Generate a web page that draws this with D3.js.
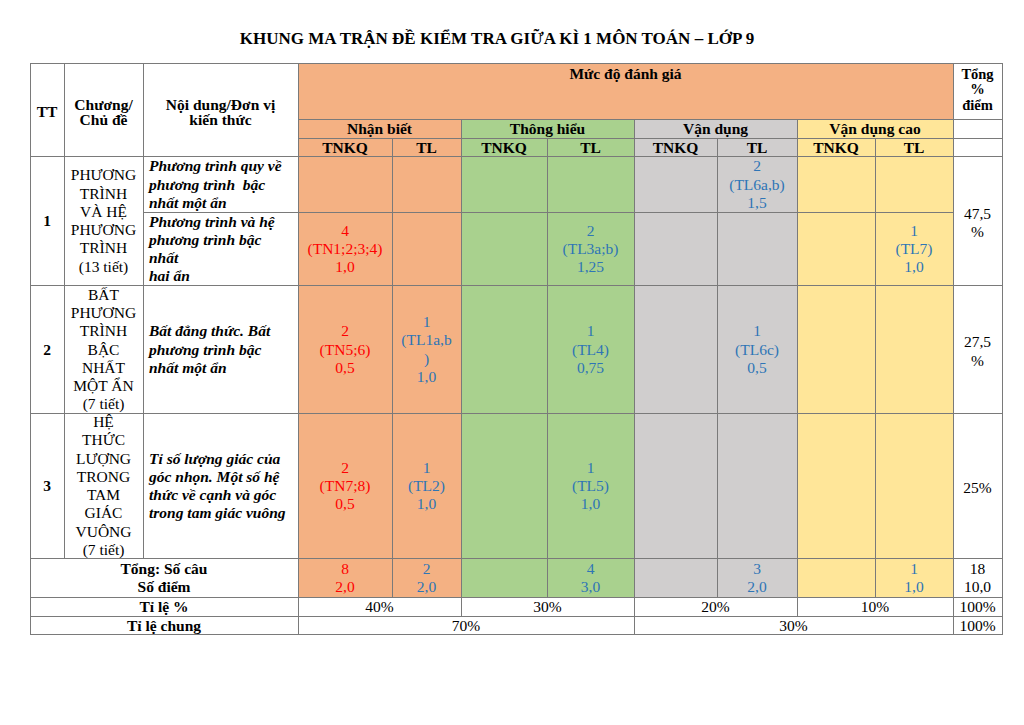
<!DOCTYPE html>
<html><head><meta charset="utf-8">
<script src="https://cdn.jsdelivr.net/npm/d3@7/dist/d3.min.js"></script>
<style>body{margin:0;background:#fff}svg{display:block}</style>
</head><body>
<script>
// ---- data ----
const title = "KHUNG MA TRẬN ĐỀ KIỂM TRA GIỮA KÌ 1 MÔN TOÁN – LỚP 9";
const headTT = ["TT"];
const headTopic = ["Chương/", "Chủ đề"];
const headContent = ["Nội dung/Đơn vị", "kiến thức"];
const headLevel = "Mức độ đánh giá";
const headTotal = ["Tổng", "%", "điểm"];
const levels = ["Nhận biết", "Thông hiểu", "Vận dụng", "Vận dụng cao"];
const subCols = ["TNKQ", "TL"];
const topicNo = ["1", "2", "3"];
const topicNames = [
  ["PHƯƠNG", "TRÌNH", "VÀ HỆ", "PHƯƠNG", "TRÌNH", "(13 tiết)"],
  ["BẤT", "PHƯƠNG", "TRÌNH", "BẬC", "NHẤT", "MỘT ẨN", "(7 tiết)"],
  ["HỆ", "THỨC", "LƯỢNG", "TRONG", "TAM", "GIÁC", "VUÔNG", "(7 tiết)"]
];
const contentTopic = [0, 0, 1, 2];
const contents = [
  ["Phương trình quy về", "phương trình  bậc", "nhất một ẩn"],
  ["Phương trình và hệ", "phương trình bậc", "nhất", "hai ẩn"],
  ["Bất đẳng thức. Bất", "phương trình bậc", "nhất một ẩn"],
  ["Tỉ số lượng giác của", "góc nhọn. Một số hệ", "thức về cạnh và góc", "trong tam giác vuông"]
];
const cellValues = [
  [null, null, null, null, null, ["2", "(TL6a,b)", "1,5"], null, null],
  [["4", "(TN1;2;3;4)", "1,0"], null, null, ["2", "(TL3a;b)", "1,25"], null, null, null, ["1", "(TL7)", "1,0"]],
  [["2", "(TN5;6)", "0,5"], ["1", "(TL1a,b", ")", "1,0"], null, ["1", "(TL4)", "0,75"], null, ["1", "(TL6c)", "0,5"], null, null],
  [["2", "(TN7;8)", "0,5"], ["1", "(TL2)", "1,0"], null, ["1", "(TL5)", "1,0"], null, null, null, null]
];
const topicTotals = [["47,5", "%"], ["27,5", "%"], ["25%"]];
const totalLabel = ["Tổng: Số câu", "Số điểm"];
const totalCount = ["8", "2", "", "4", "", "3", "", "1"];
const totalPoints = ["2,0", "2,0", "", "3,0", "", "2,0", "", "1,0"];
const grandTotal = ["18", "10,0"];
const pctLabel = "Tỉ lệ %";
const levelPct = ["40%", "30%", "20%", "10%"];
const commonLabel = "Tỉ lệ chung";
const commonPct = ["70%", "30%"];
const allPct = "100%";

// ---- layout ----
const W = 1024, H = 725;
const colEdges = [30, 64, 143, 298, 392, 461, 547, 634, 717, 797, 875, 953, 1002];
const rowEdges = [63, 119, 138, 156, 212, 285, 413, 558, 597, 616, 634];
const x = d3.scaleLinear().domain(d3.range(colEdges.length)).range(colEdges);
const y = d3.scaleLinear().domain(d3.range(rowEdges.length)).range(rowEdges);
const levelColor = d3.scaleOrdinal().domain(levels).range(["#F4B183", "#A9D18E", "#D0CECE", "#FFE699"]);
const subColor = d3.scaleOrdinal().domain(subCols).range(["#FF0000", "#2E75B6"]);
const FONT = "'Liberation Serif','Times New Roman',serif";
const FS = 15.5, LH = 18.3;

const svg = d3.select("body").append("svg").attr("width", W).attr("height", H)
  .style("font-family", FONT);

svg.append("text").attr("x", 497).attr("y", 38).attr("text-anchor", "middle")
  .attr("dominant-baseline", "central").attr("font-weight", "bold").attr("font-size", 17)
  .attr("fill", "#000").text(title);

const gCells = svg.append("g");
const gText = svg.append("g");

function cell(c0, c1, r0, r1, fill) {
  gCells.append("rect")
    .attr("x", x(c0) + 0.5).attr("y", y(r0) + 0.5)
    .attr("width", x(c1) - x(c0)).attr("height", y(r1) - y(r0))
    .attr("fill", fill || "#fff").attr("stroke", "#7a7a7a").attr("stroke-width", 1)
    .attr("shape-rendering", "crispEdges");
}
function lines(arr, cx, cy, opt) {
  opt = opt || {};
  const lh = opt.lh || LH;
  const n = arr.length;
  const t = gText.append("text")
    .attr("text-anchor", opt.anchor || "middle")
    .attr("font-size", opt.fs || FS)
    .attr("font-weight", opt.bold ? "bold" : "normal")
    .attr("font-style", opt.italic ? "italic" : "normal")
    .attr("fill", opt.color || "#000")
    .attr("xml:space", "preserve")
    .style("white-space", "pre");
  arr.forEach((s, i) => {
    t.append("tspan").attr("x", cx).attr("y", cy + (i - (n - 1) / 2) * lh)
      .attr("dominant-baseline", "central").text(s);
  });
}
const cxOf = (c0, c1) => (x(c0) + x(c1)) / 2;
const cyOf = (r0, r1) => (y(r0) + y(r1)) / 2;

// header
cell(0, 1, 0, 3); lines(headTT, cxOf(0, 1), 111, {bold: true});
cell(1, 2, 0, 3); lines(headTopic, cxOf(1, 2), 112, {bold: true, lh: 15});
cell(2, 3, 0, 3); lines(headContent, cxOf(2, 3), 112, {bold: true, lh: 15});
cell(3, 11, 0, 1, levelColor(levels[0])); lines([headLevel], cxOf(3, 11), 73, {bold: true});
cell(11, 12, 0, 1); lines(headTotal, cxOf(11, 12), 89, {bold: true, lh: 15.5, fs: 14.5});
cell(11, 12, 1, 2); cell(11, 12, 2, 3);
levels.forEach((lv, i) => {
  const c = 3 + 2 * i;
  cell(c, c + 2, 1, 2, levelColor(lv)); lines([lv], cxOf(c, c + 2), cyOf(1, 2), {bold: true});
  subCols.forEach((sc, j) => {
    cell(c + j, c + j + 1, 2, 3, levelColor(lv));
    lines([sc], cxOf(c + j, c + j + 1), cyOf(2, 3), {bold: true});
  });
});

// body
topicNo.forEach((no, t) => {
  const rows = contentTopic.map((tp, k) => tp === t ? k : -1).filter(k => k >= 0);
  const r0 = 3 + d3.min(rows), r1 = 4 + d3.max(rows);
  cell(0, 1, r0, r1); lines([no], cxOf(0, 1), cyOf(r0, r1), {bold: true});
  cell(1, 2, r0, r1); lines(topicNames[t], cxOf(1, 2), cyOf(r0, r1));
  cell(11, 12, r0, r1); lines(topicTotals[t], cxOf(11, 12), cyOf(r0, r1) + 2);
});
contents.forEach((ct, k) => {
  const r = 3 + k;
  cell(2, 3, r, r + 1);
  lines(ct, x(2) + 6, cyOf(r, r + 1), {bold: true, italic: true, anchor: "start"});
  cellValues[k].forEach((v, j) => {
    const c = 3 + j;
    cell(c, c + 1, r, r + 1, levelColor(levels[Math.floor(j / 2)]));
    if (v) lines(v, cxOf(c, c + 1), cyOf(r, r + 1), {color: subColor(subCols[j % 2])});
  });
});

// totals
cell(0, 3, 7, 8); lines(totalLabel, cxOf(0, 3), cyOf(7, 8), {bold: true});
totalCount.forEach((v, j) => {
  const c = 3 + j;
  cell(c, c + 1, 7, 8, levelColor(levels[Math.floor(j / 2)]));
  if (v) lines([v, totalPoints[j]], cxOf(c, c + 1), cyOf(7, 8), {color: subColor(subCols[j % 2])});
});
cell(11, 12, 7, 8); lines(grandTotal, cxOf(11, 12), cyOf(7, 8));

cell(0, 3, 8, 9); lines([pctLabel], cxOf(0, 3), cyOf(8, 9), {bold: true});
levelPct.forEach((v, i) => {
  const c = 3 + 2 * i;
  cell(c, c + 2, 8, 9); lines([v], cxOf(c, c + 2), cyOf(8, 9));
});
cell(11, 12, 8, 9); lines([allPct], cxOf(11, 12), cyOf(8, 9));

cell(0, 3, 9, 10); lines([commonLabel], cxOf(0, 3), cyOf(9, 10), {bold: true});
cell(3, 7, 9, 10); lines([commonPct[0]], cxOf(3, 7), cyOf(9, 10));
cell(7, 11, 9, 10); lines([commonPct[1]], cxOf(7, 11), cyOf(9, 10));
cell(11, 12, 9, 10); lines([allPct], cxOf(11, 12), cyOf(9, 10));
</script>
</body></html>
